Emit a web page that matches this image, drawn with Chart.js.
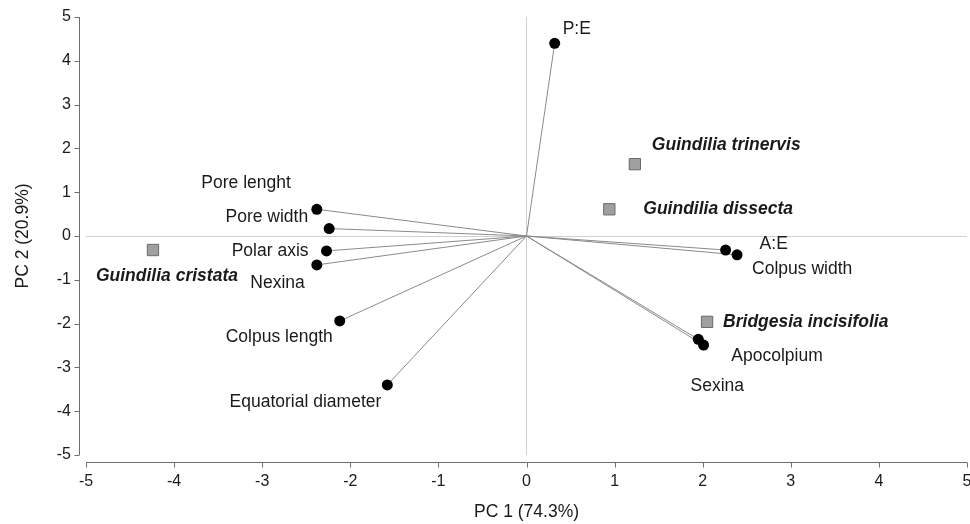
<!DOCTYPE html>
<html>
<head>
<meta charset="utf-8">
<script src="https://cdn.jsdelivr.net/npm/chart.js@4/dist/chart.umd.min.js"></script>
<style>
  html, body { margin: 0; padding: 0; background: #fff; }
  #wrap { width: 970px; height: 524px; position: relative; }
</style>
</head>
<body>
<div id="wrap"><canvas id="biplot"></canvas></div>
<script>
// variable loadings (arrows from origin)
const varNames = ['P:E', 'Pore lenght', 'Pore width', 'Polar axis', 'Nexina', 'Colpus length',
  'Equatorial diameter', 'A:E', 'Colpus width', 'Apocolpium', 'Sexina'];
const varPC1 = [0.32, -2.38, -2.24, -2.27, -2.38, -2.12, -1.58, 2.26, 2.39, 1.95, 2.01];
const varPC2 = [4.40, 0.61, 0.17, -0.34, -0.66, -1.94, -3.40, -0.32, -0.43, -2.36, -2.49];

// species scores
const spNames = ['Guindilia cristata', 'Guindilia trinervis', 'Guindilia dissecta', 'Bridgesia incisifolia'];
const spPC1 = [-4.24, 1.23, 0.94, 2.05];
const spPC2 = [-0.32, 1.64, 0.61, -1.96];

const tickValues = [-5, -4, -3, -2, -1, 0, 1, 2, 3, 4, 5];

// label placement relative to the marker (pixels)
const varLabelPos = [
  [8, -14, 'left'], [-26, -26, 'right'], [-21, -11, 'right'], [-18, 0, 'right'],
  [-12, 18, 'right'], [-7, 16, 'right'], [-6, 17, 'right'], [34, -6, 'left'],
  [15, 14, 'left'], [33, 17, 'left'], [-13, 41, 'left']
];
const spLabelPos = [[-57, 26], [17, -19], [34, 0], [16, 0]];

const FONT = 'Liberation Sans, Arial, sans-serif';

const datasets = varNames.map(function(name, i) {
  return {
    type: 'line',
    label: name,
    data: [{ x: 0, y: 0 }, { x: varPC1[i], y: varPC2[i] }],
    borderColor: '#8a8a8a',
    borderWidth: 1,
    pointRadius: [0, 5.5],
    pointBackgroundColor: '#000',
    pointBorderColor: '#000',
    pointBorderWidth: 0,
    showLine: true,
    fill: false
  };
});
datasets.push({
  type: 'scatter',
  label: 'species',
  data: spNames.map(function(n, i) { return { x: spPC1[i], y: spPC2[i] }; }),
  pointStyle: 'rect',
  pointRadius: 8,
  backgroundColor: '#a0a0a0',
  borderColor: '#6a6a6a',
  borderWidth: 1
});

const offsetAxes = {
  id: 'offsetAxes',
  afterDraw: function(chart) {
    const ctx = chart.ctx;
    const xs = chart.scales.x, ys = chart.scales.y;
    const area = chart.chartArea;
    ctx.save();
    ctx.strokeStyle = '#6e6e6e';
    ctx.lineWidth = 1;
    // y axis
    const ax = Math.round(area.left - 7) + 0.5;
    ctx.beginPath();
    ctx.moveTo(ax, ys.getPixelForValue(5));
    ctx.lineTo(ax, ys.getPixelForValue(-5));
    tickValues.forEach(function(v) {
      const py = Math.round(ys.getPixelForValue(v)) + 0.5;
      ctx.moveTo(ax - 5, py);
      ctx.lineTo(ax, py);
    });
    // x axis
    const ay = Math.round(area.bottom + 7) + 0.5;
    ctx.moveTo(xs.getPixelForValue(-5), ay);
    ctx.lineTo(xs.getPixelForValue(5), ay);
    tickValues.forEach(function(v) {
      const px = Math.round(xs.getPixelForValue(v)) + 0.5;
      ctx.moveTo(px, ay);
      ctx.lineTo(px, ay + 5);
    });
    ctx.stroke();

    // point labels
    ctx.fillStyle = '#1a1a1a';
    ctx.textBaseline = 'middle';
    ctx.font = '17.5px ' + FONT;
    varNames.forEach(function(name, i) {
      const p = varLabelPos[i];
      ctx.textAlign = p[2];
      ctx.fillText(name, xs.getPixelForValue(varPC1[i]) + p[0], ys.getPixelForValue(varPC2[i]) + p[1]);
    });
    ctx.font = 'italic bold 17.5px ' + FONT;
    ctx.textAlign = 'left';
    spNames.forEach(function(name, i) {
      const p = spLabelPos[i];
      ctx.fillText(name, xs.getPixelForValue(spPC1[i]) + p[0], ys.getPixelForValue(spPC2[i]) + p[1]);
    });
    ctx.restore();
  }
};

function zeroLine(c) {
  return c.tick && c.tick.value === 0 ? '#cfcfcf' : 'rgba(0,0,0,0)';
}

new Chart(document.getElementById('biplot'), {
  data: { datasets: datasets },
  options: {
    responsive: true,
    maintainAspectRatio: false,
    animation: false,
    layout: { autoPadding: false, padding: { top: 17, right: 3, left: 0, bottom: 0 } },
    plugins: { legend: { display: false }, tooltip: { enabled: false } },
    scales: {
      x: {
        type: 'linear',
        min: -5,
        max: 5,
        afterFit: function(s) { s.height = 69; s.paddingRight = 0; s.paddingLeft = 0; },
        afterBuildTicks: function(s) { s.ticks = tickValues.map(function(v) { return { value: v }; }); },
        border: { display: false },
        grid: { color: zeroLine, drawTicks: false, lineWidth: 1 },
        ticks: { color: '#1a1a1a', font: { family: FONT, size: 16 }, padding: 17, maxRotation: 0 },
        title: { display: true, text: 'PC 1 (74.3%)', color: '#1a1a1a', font: { family: FONT, size: 17.5 }, padding: { top: 0, bottom: 1 } }
      },
      y: {
        type: 'linear',
        min: -5,
        max: 5,
        afterFit: function(s) { s.width = 86; s.paddingTop = 0; s.paddingBottom = 0; },
        afterBuildTicks: function(s) { s.ticks = tickValues.map(function(v) { return { value: v }; }); },
        border: { display: false },
        grid: { color: zeroLine, drawTicks: false, lineWidth: 1 },
        ticks: { color: '#1a1a1a', font: { family: FONT, size: 16 }, padding: 15 },
        title: { display: true, text: 'PC 2 (20.9%)', color: '#1a1a1a', font: { family: FONT, size: 17.5 }, padding: { top: 13, bottom: 0 } }
      }
    }
  },
  plugins: [offsetAxes]
});
</script>
</body>
</html>
